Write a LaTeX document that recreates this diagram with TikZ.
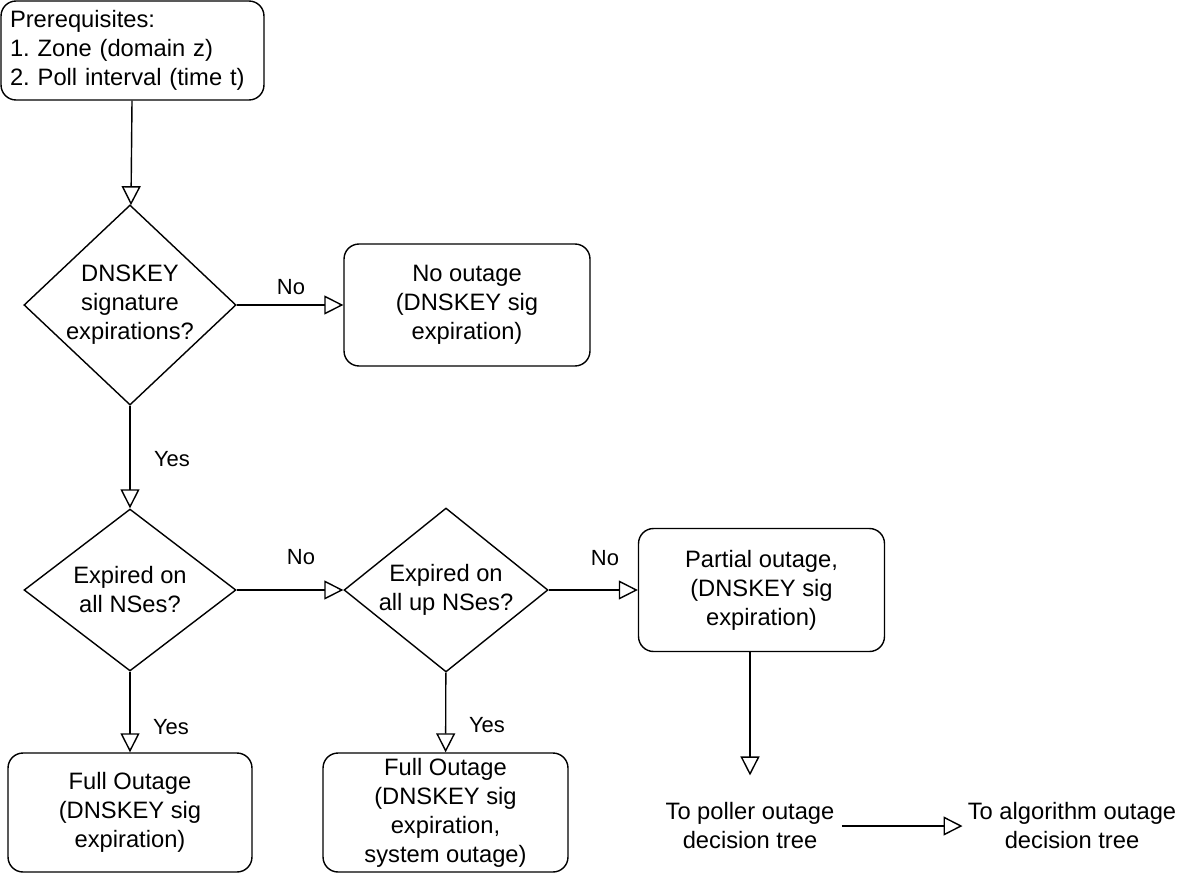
\documentclass[tikz,border=0pt]{standalone}
\usepackage{fontspec}
\setmainfont{Liberation Sans}
\usetikzlibrary{shapes.geometric,arrows.meta}

\begin{document}
\begin{tikzpicture}[
    x=0.02cm, y=-0.02cm,
    every node/.style={font=\fontsize{13.5}{16.5}\selectfont\frenchspacing},
    outcome/.style={draw, line width=0.8pt, rounded corners=0.3cm, align=center, inner sep=0},
    decision/.style={draw, diamond, line width=0.8pt, align=center, inner sep=0},
    plain/.style={align=center, inner sep=0},
    answer/.style={font=\fontsize{12.5}{14}\selectfont},
    arrow/.style={-{Triangle[open, length=0.38cm, width=0.38cm]}, line width=0.8pt}
]
\useasboundingbox (0,0) rectangle (1185,875);

% Start
\node[outcome, align=left, minimum width=5.26cm, minimum height=1.98cm, text width=4.9cm] (prereq) at (132.5,50.5)
    {Prerequisites:\\1. Zone (domain z)\\2. Poll interval (time t)};

% Decisions
\node[decision, aspect=1.06, minimum width=4.24cm, minimum height=4cm] (sigexp) at (130,305)
    {DNSKEY\\signature\\expirations?};
\node[decision, aspect=1.3, minimum width=4.24cm, minimum height=3.24cm] (allns) at (130,590)
    {Expired on\\all NSes?};
\node[decision, aspect=1.25, minimum width=4.08cm, minimum height=3.28cm] (upns) at (446,590)
    {Expired on\\all up NSes?};

% Outcomes
\node[outcome, minimum width=4.92cm, minimum height=2.44cm] (nooutage) at (467,305)
    {No outage\\(DNSKEY sig\\expiration)};
\node[outcome, minimum width=4.88cm, minimum height=2.38cm] (fullall) at (130,812.5)
    {Full Outage\\(DNSKEY sig\\expiration)};
\node[outcome, minimum width=4.9cm, minimum height=2.38cm] (fullup) at (445.5,812.5)
    {Full Outage\\(DNSKEY sig\\expiration,\\system outage)};
\node[outcome, minimum width=4.92cm, minimum height=2.46cm] (partial) at (761.5,590)
    {Partial outage,\\(DNSKEY sig\\expiration)};

% Next trees
\node[plain] (poller) at (750,826) {To poller outage\\decision tree};
\node[plain] (algo) at (1072,826) {To algorithm outage\\decision tree};

% Connectors
\draw[arrow] (prereq) -- (sigexp);
\draw[arrow] (sigexp) -- (nooutage);
\draw[arrow] (sigexp) -- (allns);
\draw[arrow] (allns) -- (upns);
\draw[arrow] (allns) -- (fullall);
\draw[arrow] (upns) -- (fullup);
\draw[arrow] (upns) -- (partial);
\draw[arrow, shorten >=0.54cm] (partial.south -| poller.north) -- (poller.north);
\draw[arrow] ([xshift=0.14cm]poller.east) -- ([xshift=-0.1cm]algo.west);

% Answers
\node[answer] (no1) at (291,287) {No};
\node[answer] (yes1) at (172,459) {Yes};
\node[answer] (no2) at (301,557) {No};
\node[answer] (yes2) at (171,727) {Yes};
\node[answer] (no3) at (605,558) {No};
\node[answer] (yes3) at (487,725) {Yes};

\end{tikzpicture}
\end{document}
